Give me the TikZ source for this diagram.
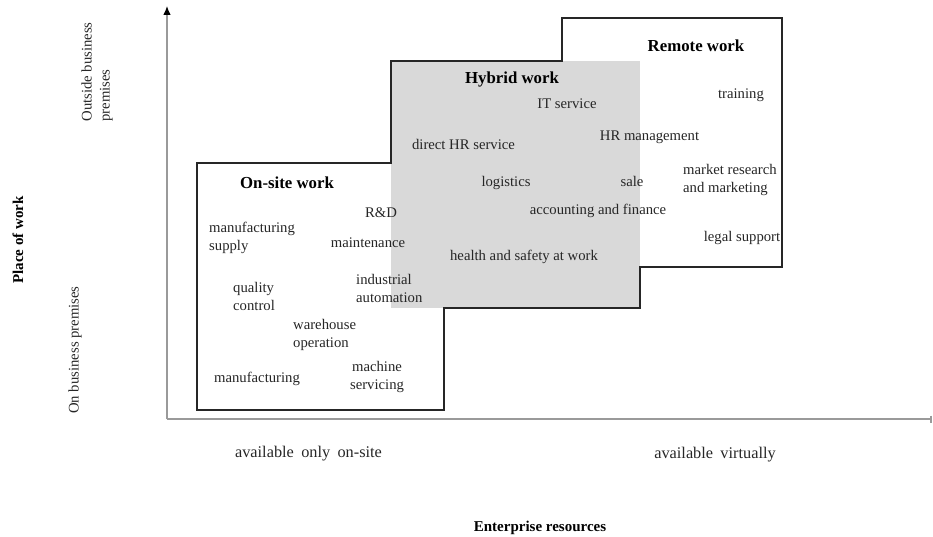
\documentclass[tikz,border=0pt]{standalone}
\usepackage{fontspec}
\setmainfont{Liberation Serif}
\usetikzlibrary{arrows.meta}
\definecolor{hybgray}{HTML}{D9D9D9}
\definecolor{axgray}{HTML}{9A9A9A}
\definecolor{txt}{HTML}{262626}
\begin{document}
\begin{tikzpicture}[x=1pt,y=-1pt,
  lbl/.style={font=\fontsize{14.7}{18}\selectfont, text=txt, inner sep=0pt, align=left},
  lblc/.style={lbl, align=center},
  ttl/.style={font=\fontsize{16.8}{20}\selectfont\bfseries, text=black, inner sep=0pt},
  axlbl/.style={font=\fontsize{14.7}{18}\selectfont, text=txt, inner sep=0pt},
  botlbl/.style={font=\fontsize{16.3}{18}\selectfont, text=txt, inner sep=0pt},
  axttl/.style={font=\fontsize{15}{18}\selectfont\bfseries, text=black, inner sep=0pt},
  axis/.style={draw=axgray, line width=1.1pt},
  outline/.style={draw=black!85, line width=1.3pt, line join=miter}]
\useasboundingbox (0,0) rectangle (933,537);

% hybrid shading
\fill[hybgray] (391,61) rectangle (640,308);
% staircase outline
\draw[outline] (197,163) -- (391,163) -- (391,61) -- (562,61) -- (562,18) -- (782,18)
  -- (782,267) -- (640,267) -- (640,308) -- (444,308) -- (444,410) -- (197,410) -- cycle;

% axes
\coordinate (o) at (167,419);
\coordinate (ytop) at (167,6);
\coordinate (xend) at (931.5,419);
\draw[axis, -{Latex[length=9pt,width=7.5pt,color=black]}] (o) -- (ytop);
\draw[axis, -{Bar[width=7pt]}] (o) -- (xend);

% titles
\node[ttl] (onsite) at (287,183) {On-site work};
\node[ttl] (hybrid) at (512,79) {Hybrid work};
\node[ttl] (remote) at (696,46) {Remote work};

% on-site items
\node[lbl] (rd) at (381,213) {R\&D};
\node[lbl] (maint) at (368,243) {maintenance};
\node[lbl, anchor=west] (indaut) at (356,288) {industrial\\automation};
\node[lbl, anchor=west] (mansup) at (209,238) {manufacturing\\supply};
\node[lbl, anchor=west] (qual) at (233,296) {quality\\control};
\node[lbl, anchor=west] (ware) at (293,335) {warehouse\\operation};
\node[lbl] (manuf) at (257,379) {manufacturing};
\node[lblc] (mach) at (377,376.5) {machine\\servicing};

% hybrid items
\node[lbl] (its) at (567,104) {IT service};
\node[lbl] (dhr) at (463.5,144) {direct HR service};
\node[lbl] (logi) at (506,183) {logistics};
\node[lbl] (sale) at (632,181) {sale};
\node[lbl] (acc) at (598,211) {accounting and finance};
\node[lbl] (hsw) at (524,257) {health and safety at work};
\node[lbl] (hrm) at (649.5,137) {HR management};

% remote items
\node[lbl] (train) at (741,95) {training};
\node[lbl, anchor=west] (mrm) at (683,180) {market research\\and marketing};
\node[lbl] (legal) at (742,238) {legal support};

% axis labels
\node[botlbl] (onlyon) at (308.5,454) {available\hspace{0.45em}only\hspace{0.45em}on-site};
\node[botlbl] (virt) at (715,455) {available\hspace{0.45em}virtually};
\node[axttl] (entres) at (540,528) {Enterprise resources};
\node[axttl, rotate=90] (place) at (18,240) {Place of work};
\node[axlbl, rotate=90] (onbus) at (75,350) {On business premises};
\node[axlbl, rotate=90, align=left] (outbus) at (97,72) {Outside business\\premises};
\end{tikzpicture}
\end{document}
